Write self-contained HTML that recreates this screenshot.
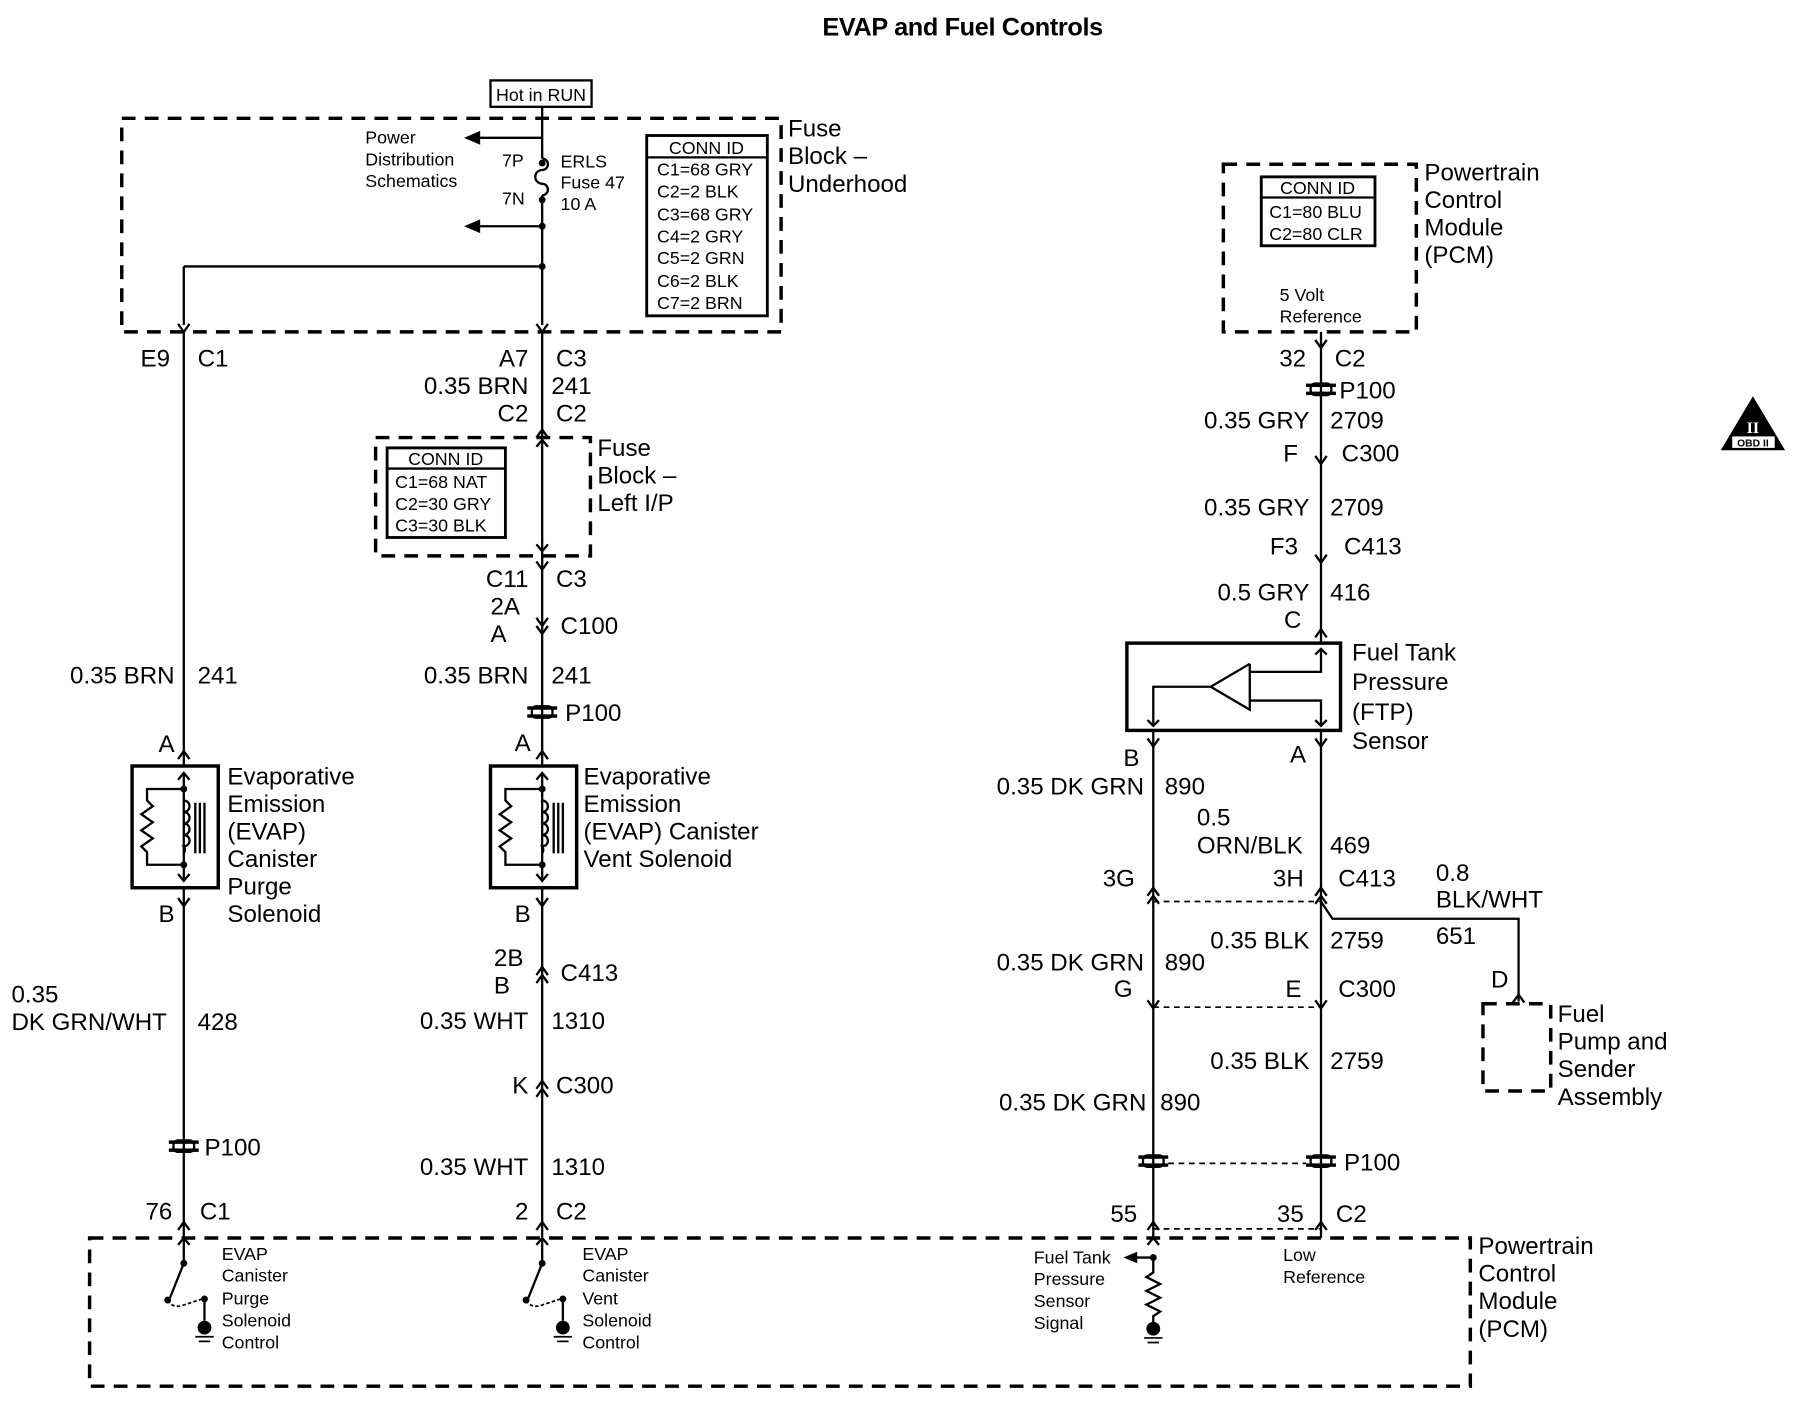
<!DOCTYPE html>
<html><head><meta charset="utf-8"><style>
html,body{margin:0;padding:0;background:#fff;}
svg{display:block}
text{font-family:"Liberation Sans",sans-serif;fill:#000;}
.L{font-size:21px;letter-spacing:0px}
.S{font-size:15.5px;letter-spacing:0px}
.r{text-anchor:end}
</style></head><body>
<svg width="1800" height="1408" viewBox="0 0 1567 1226" preserveAspectRatio="none" xmlns="http://www.w3.org/2000/svg">
<defs>
<g id="cv"><polyline points="-5,-7 0,0 5,-7" fill="none" stroke="#000" stroke-width="2"/></g>
<g id="cu"><polyline points="-5,7 0,0 5,7" fill="none" stroke="#000" stroke-width="2"/></g>
<g id="p100"><rect x="-13" y="-5" width="26" height="3" fill="#000"/><rect x="-13" y="2" width="26" height="3" fill="#000"/><rect x="-9" y="-5" width="18" height="10" rx="4" fill="none" stroke="#000" stroke-width="2"/></g>
<g id="sol">
<rect x="-45" y="0" width="75" height="106" fill="none" stroke="#000" stroke-width="3"/>
<line x1="0" y1="6" x2="0" y2="100" stroke="#000" stroke-width="2"/>
<polyline points="-5,12 0,6 5,12" fill="none" stroke="#000" stroke-width="2"/>
<polyline points="-5,94 0,100 5,94" fill="none" stroke="#000" stroke-width="2"/>
<circle cx="0" cy="20" r="3"/><circle cx="0" cy="86" r="3"/>
<polyline points="0,20 -32,20 -32,30 -27,35 -37,42 -27,49 -37,56 -27,63 -37,70 -32,75 -32,86 0,86" fill="none" stroke="#000" stroke-width="2"/>
<path d="M0,30 a5,5 0 0 1 0,10 a5,5 0 0 1 0,10 a5,5 0 0 1 0,10 a5,5 0 0 1 0,10 a5,5 0 0 1 0,6" fill="none" stroke="#000" stroke-width="2"/>
<line x1="10" y1="32" x2="10" y2="76" stroke="#000" stroke-width="2"/>
<line x1="14" y1="32" x2="14" y2="76" stroke="#000" stroke-width="2"/>
<line x1="18" y1="32" x2="18" y2="76" stroke="#000" stroke-width="2"/>
</g>
<g id="sw">
<line x1="0" y1="0" x2="0" y2="22" stroke="#000" stroke-width="2"/>
<polyline points="-5,6 0,0 5,6" fill="none" stroke="#000" stroke-width="2"/>
<circle cx="0" cy="22" r="3"/>
<line x1="0" y1="22" x2="-12" y2="52" stroke="#000" stroke-width="2"/>
<circle cx="-14" cy="54" r="3"/><circle cx="18" cy="53" r="3"/>
<path d="M-14,54 q4,7 12,5 l18,-6" fill="none" stroke="#000" stroke-width="1.5" stroke-dasharray="3,2"/>
<line x1="18" y1="53" x2="18" y2="72" stroke="#000" stroke-width="2"/>
<circle cx="18" cy="78" r="6"/>
<line x1="10" y1="86" x2="26" y2="86" stroke="#000" stroke-width="1.5"/>
<line x1="13" y1="90" x2="23" y2="90" stroke="#000" stroke-width="1.5"/>
</g>
</defs>
<text x="838" y="31" font-size="22" font-weight="bold" text-anchor="middle" letter-spacing="-0.3">EVAP and Fuel Controls</text>

<rect x="427" y="70" width="88" height="23" fill="none" stroke="#000" stroke-width="2"/>
<text x="471" y="88" class="S" text-anchor="middle" letter-spacing="-0.5">Hot in RUN</text>

<rect x="106" y="103" width="574" height="186" fill="none" stroke="#000" stroke-width="3" stroke-dasharray="12,8"/>
<text x="686" y="119" class="L">Fuse</text><text x="686" y="143" class="L">Block –</text><text x="686" y="167" class="L">Underhood</text>
<line x1="472" y1="93" x2="472" y2="138" stroke="#000" stroke-width="2"/>
<path d="M472,138 a5,5 0 0 1 0,10 a6,6 0 0 0 0,12 a5,5 0 0 1 0,10" fill="none" stroke="#000" stroke-width="2"/>
<line x1="472" y1="170" x2="472" y2="283" stroke="#000" stroke-width="2"/>
<circle cx="472" cy="142" r="3"/><circle cx="472" cy="174" r="3"/>
<circle cx="472" cy="197" r="3"/><circle cx="472" cy="232" r="3"/>
<line x1="472" y1="197" x2="412" y2="197" stroke="#000" stroke-width="2"/>
<polygon points="404,197 418,191 418,203"/>
<line x1="472" y1="120" x2="412" y2="120" stroke="#000" stroke-width="2"/>
<polygon points="404,120 418,114 418,126"/>
<text x="318" y="125" class="S">Power</text><text x="318" y="144" class="S">Distribution</text><text x="318" y="163" class="S">Schematics</text>
<text x="437" y="145" class="S">7P</text><text x="437" y="178" class="S">7N</text>
<text x="488" y="146" class="S">ERLS</text><text x="488" y="164" class="S">Fuse 47</text><text x="488" y="183" class="S">10 A</text>
<line x1="160" y1="232" x2="472" y2="232" stroke="#000" stroke-width="2"/>
<line x1="160" y1="232" x2="160" y2="283" stroke="#000" stroke-width="2"/>
<rect x="563" y="118" width="105" height="157" fill="none" stroke="#000" stroke-width="2.5"/>
<line x1="563" y1="137" x2="668" y2="137" stroke="#000" stroke-width="2"/>
<text x="615" y="134" class="S" text-anchor="middle" letter-spacing="-0.5">CONN ID</text>
<g letter-spacing="-0.6">
<text x="572" y="153" class="S" letter-spacing="-0.6">C1=68 GRY</text><text x="572" y="172" class="S" letter-spacing="-0.6">C2=2 BLK</text>
<text x="572" y="192" class="S" letter-spacing="-0.6">C3=68 GRY</text><text x="572" y="211" class="S" letter-spacing="-0.6">C4=2 GRY</text>
<text x="572" y="230" class="S" letter-spacing="-0.6">C5=2 GRN</text><text x="572" y="250" class="S" letter-spacing="-0.6">C6=2 BLK</text>
<text x="572" y="269" class="S" letter-spacing="-0.6">C7=2 BRN</text>
</g>
<use href="#cv" x="160" y="289"/><use href="#cv" x="472" y="289"/>

<line x1="160" y1="289" x2="160" y2="667" stroke="#000" stroke-width="2"/>
<text x="148" y="319" class="L r">E9</text><text x="172" y="319" class="L">C1</text>
<text x="152" y="595" class="L r">0.35 BRN</text><text x="172" y="595" class="L">241</text>
<text x="152" y="655" class="L r">A</text>
<use href="#cu" x="160" y="654"/>
<use href="#sol" x="160" y="667"/>
<text x="198" y="683" class="L">Evaporative</text><text x="198" y="707" class="L">Emission</text><text x="198" y="731" class="L">(EVAP)</text><text x="198" y="755" class="L">Canister</text><text x="198" y="779" class="L">Purge</text><text x="198" y="803" class="L">Solenoid</text>
<text x="152" y="803" class="L r">B</text>
<use href="#cv" x="160" y="789"/>
<line x1="160" y1="773" x2="160" y2="1077" stroke="#000" stroke-width="2"/>
<text x="10" y="873" class="L">0.35</text><text x="10" y="897" class="L">DK GRN/WHT</text><text x="172" y="897" class="L">428</text>
<use href="#p100" x="160" y="998"/><text x="178" y="1006" class="L">P100</text>
<text x="150" y="1062" class="L r">76</text><text x="174" y="1062" class="L">C1</text>
<use href="#cu" x="160" y="1064"/>

<line x1="472" y1="289" x2="472" y2="667" stroke="#000" stroke-width="2"/>
<text x="460" y="319" class="L r">A7</text><text x="484" y="319" class="L">C3</text>
<text x="460" y="343" class="L r">0.35 BRN</text><text x="480" y="343" class="L">241</text>
<text x="460" y="367" class="L r">C2</text><text x="484" y="367" class="L">C2</text>
<use href="#cu" x="472" y="374"/>
<rect x="327" y="381" width="187" height="103" fill="none" stroke="#000" stroke-width="3" stroke-dasharray="12,8"/>
<polyline points="467,389 472,383 477,389" fill="none" stroke="#000" stroke-width="2"/>
<polyline points="467,474 472,480 477,474" fill="none" stroke="#000" stroke-width="2"/>
<rect x="337" y="390" width="103" height="78" fill="none" stroke="#000" stroke-width="2.5"/>
<line x1="337" y1="408" x2="440" y2="408" stroke="#000" stroke-width="2"/>
<text x="388" y="405" class="S" text-anchor="middle" letter-spacing="-0.5">CONN ID</text>
<text x="344" y="425" class="S" letter-spacing="-0.6">C1=68 NAT</text><text x="344" y="444" class="S" letter-spacing="-0.6">C2=30 GRY</text><text x="344" y="463" class="S" letter-spacing="-0.6">C3=30 BLK</text>
<text x="520" y="397" class="L">Fuse</text><text x="520" y="421" class="L">Block –</text><text x="520" y="445" class="L">Left I/P</text>
<use href="#cv" x="472" y="496"/>
<text x="460" y="511" class="L r">C11</text><text x="484" y="511" class="L">C3</text>
<text x="427" y="535" class="L">2A</text><text x="427" y="559" class="L">A</text>
<use href="#cv" x="472" y="545"/><use href="#cv" x="472" y="552"/>
<text x="488" y="552" class="L">C100</text>
<text x="460" y="595" class="L r">0.35 BRN</text><text x="480" y="595" class="L">241</text>
<use href="#p100" x="472" y="620"/><text x="492" y="628" class="L">P100</text>
<text x="462" y="654" class="L r">A</text><use href="#cu" x="472" y="654"/>
<use href="#sol" x="472" y="667"/>
<text x="508" y="683" class="L">Evaporative</text><text x="508" y="707" class="L">Emission</text><text x="508" y="731" class="L">(EVAP) Canister</text><text x="508" y="755" class="L">Vent Solenoid</text>
<text x="462" y="803" class="L r">B</text><use href="#cv" x="472" y="789"/>
<line x1="472" y1="773" x2="472" y2="1077" stroke="#000" stroke-width="2"/>
<text x="430" y="841" class="L">2B</text><text x="430" y="865" class="L">B</text>
<use href="#cu" x="472" y="842"/><use href="#cu" x="472" y="849"/>
<text x="488" y="854" class="L">C413</text>
<text x="460" y="896" class="L r">0.35 WHT</text><text x="480" y="896" class="L">1310</text>
<text x="460" y="952" class="L r">K</text><use href="#cu" x="472" y="941"/><use href="#cu" x="472" y="948"/>
<text x="484" y="952" class="L">C300</text>
<text x="460" y="1023" class="L r">0.35 WHT</text><text x="480" y="1023" class="L">1310</text>
<text x="460" y="1062" class="L r">2</text><text x="484" y="1062" class="L">C2</text>
<use href="#cu" x="472" y="1064"/>

<rect x="78" y="1078" width="1202" height="129" fill="none" stroke="#000" stroke-width="3" stroke-dasharray="12,8"/>
<text x="1287" y="1092" class="L">Powertrain</text><text x="1287" y="1116" class="L">Control</text><text x="1287" y="1140" class="L">Module</text><text x="1287" y="1164" class="L">(PCM)</text>
<use href="#sw" x="160" y="1078"/><use href="#sw" x="472" y="1078"/>
<text x="193" y="1097" class="S">EVAP</text><text x="193" y="1116" class="S">Canister</text><text x="193" y="1136" class="S">Purge</text><text x="193" y="1155" class="S">Solenoid</text><text x="193" y="1174" class="S">Control</text>
<text x="507" y="1097" class="S">EVAP</text><text x="507" y="1116" class="S">Canister</text><text x="507" y="1136" class="S">Vent</text><text x="507" y="1155" class="S">Solenoid</text><text x="507" y="1174" class="S">Control</text>

<rect x="1065" y="143" width="168" height="146" fill="none" stroke="#000" stroke-width="3" stroke-dasharray="12,8"/>
<rect x="1098" y="154" width="99" height="60" fill="none" stroke="#000" stroke-width="2.5"/>
<line x1="1098" y1="172" x2="1197" y2="172" stroke="#000" stroke-width="2"/>
<text x="1147" y="169" class="S" text-anchor="middle" letter-spacing="-0.5">CONN ID</text>
<text x="1105" y="190" class="S" letter-spacing="-0.6">C1=80 BLU</text><text x="1105" y="209" class="S" letter-spacing="-0.6">C2=80 CLR</text>
<text x="1114" y="262" class="S">5 Volt</text><text x="1114" y="281" class="S">Reference</text>
<text x="1240" y="157" class="L">Powertrain</text><text x="1240" y="181" class="L">Control</text><text x="1240" y="205" class="L">Module</text><text x="1240" y="229" class="L">(PCM)</text>
<use href="#cv" x="1150" y="303"/>
<line x1="1150" y1="289" x2="1150" y2="560" stroke="#000" stroke-width="2"/>
<text x="1137" y="319" class="L r">32</text><text x="1162" y="319" class="L">C2</text>
<use href="#p100" x="1150" y="339"/><text x="1166" y="347" class="L">P100</text>
<text x="1140" y="373" class="L r">0.35 GRY</text><text x="1158" y="373" class="L">2709</text>
<text x="1130" y="402" class="L r">F</text><use href="#cv" x="1150" y="404"/><text x="1168" y="402" class="L">C300</text>
<text x="1140" y="449" class="L r">0.35 GRY</text><text x="1158" y="449" class="L">2709</text>
<text x="1130" y="483" class="L r">F3</text><use href="#cv" x="1150" y="490"/><text x="1170" y="483" class="L">C413</text>
<text x="1140" y="523" class="L r">0.5 GRY</text><text x="1158" y="523" class="L">416</text>
<text x="1133" y="547" class="L r">C</text><use href="#cu" x="1150" y="548"/>
<rect x="981" y="560" width="186" height="76" fill="none" stroke="#000" stroke-width="3"/>
<polyline points="1088,578 1054,598 1088,618 1088,578" fill="none" stroke="#000" stroke-width="2"/>
<polyline points="1088,585 1150,585 1150,565" fill="none" stroke="#000" stroke-width="2"/>
<polyline points="1145,570 1150,565 1155,570" fill="none" stroke="#000" stroke-width="2"/>
<polyline points="1088,610 1150,610 1150,632" fill="none" stroke="#000" stroke-width="2"/>
<polyline points="1145,627 1150,632 1155,627" fill="none" stroke="#000" stroke-width="2"/>
<polyline points="1054,598 1004,598 1004,632" fill="none" stroke="#000" stroke-width="2"/>
<polyline points="999,627 1004,632 1009,627" fill="none" stroke="#000" stroke-width="2"/>
<text x="1177" y="575" class="L">Fuel Tank</text><text x="1177" y="601" class="L">Pressure</text><text x="1177" y="627" class="L">(FTP)</text><text x="1177" y="652" class="L">Sensor</text>
<use href="#cv" x="1004" y="650"/><use href="#cv" x="1150" y="650"/>
<line x1="1004" y1="636" x2="1004" y2="1078" stroke="#000" stroke-width="2"/>
<line x1="1150" y1="636" x2="1150" y2="1078" stroke="#000" stroke-width="2"/>
<text x="992" y="667" class="L r">B</text><text x="1137" y="664" class="L r">A</text>
<text x="996" y="692" class="L r">0.35 DK GRN</text><text x="1014" y="692" class="L">890</text>
<text x="1042" y="719" class="L">0.5</text><text x="1042" y="743" class="L">ORN/BLK</text><text x="1158" y="743" class="L">469</text>
<text x="988" y="772" class="L r">3G</text><text x="1135" y="772" class="L r">3H</text><text x="1165" y="772" class="L">C413</text>
<use href="#cu" x="1004" y="773"/><use href="#cu" x="1004" y="780"/><use href="#cu" x="1150" y="773"/><use href="#cu" x="1150" y="780"/>
<line x1="1004" y1="785" x2="1150" y2="785" stroke="#000" stroke-width="1.5" stroke-dasharray="5,4"/>
<polyline points="1150,785 1160,800 1322,800 1322,872" fill="none" stroke="#000" stroke-width="2"/>
<use href="#cu" x="1322" y="866"/>
<text x="1250" y="767" class="L">0.8</text><text x="1250" y="790" class="L">BLK/WHT</text><text x="1250" y="822" class="L">651</text>
<text x="1298" y="860" class="L">D</text>
<rect x="1291" y="874" width="59" height="76" fill="none" stroke="#000" stroke-width="3" stroke-dasharray="12,8"/>
<text x="1356" y="890" class="L">Fuel</text><text x="1356" y="914" class="L">Pump and</text><text x="1356" y="938" class="L">Sender</text><text x="1356" y="962" class="L">Assembly</text>
<text x="1140" y="826" class="L r">0.35 BLK</text><text x="1158" y="826" class="L">2759</text>
<text x="996" y="845" class="L r">0.35 DK GRN</text><text x="1014" y="845" class="L">890</text>
<text x="986" y="868" class="L r">G</text><text x="1133" y="868" class="L r">E</text><text x="1165" y="868" class="L">C300</text>
<use href="#cv" x="1004" y="878"/><use href="#cv" x="1150" y="878"/>
<line x1="1004" y1="877" x2="1150" y2="877" stroke="#000" stroke-width="1.5" stroke-dasharray="5,4"/>
<text x="1140" y="931" class="L r">0.35 BLK</text><text x="1158" y="931" class="L">2759</text>
<text x="998" y="967" class="L r">0.35 DK GRN</text><text x="1010" y="967" class="L">890</text>
<use href="#p100" x="1004" y="1011"/><use href="#p100" x="1150" y="1011"/>
<line x1="1017" y1="1013" x2="1137" y2="1013" stroke="#000" stroke-width="1.5" stroke-dasharray="5,4"/>
<text x="1170" y="1019" class="L">P100</text>
<text x="990" y="1064" class="L r">55</text><text x="1135" y="1064" class="L r">35</text><text x="1163" y="1064" class="L">C2</text>
<use href="#cu" x="1004" y="1064"/><use href="#cu" x="1150" y="1064"/>
<line x1="1004" y1="1070" x2="1150" y2="1070" stroke="#000" stroke-width="1.5" stroke-dasharray="5,4"/>
<polyline points="999,1084 1004,1078 1009,1084" fill="none" stroke="#000" stroke-width="2"/>
<circle cx="1004" cy="1095" r="3"/>
<line x1="1004" y1="1095" x2="988" y2="1095" stroke="#000" stroke-width="2"/>
<polygon points="978,1095 990,1090 990,1100"/>
<polyline points="1004,1095 1004,1108 998,1112 1010,1118 998,1124 1010,1130 998,1136 1010,1142 1004,1146 1004,1152" fill="none" stroke="#000" stroke-width="2"/>
<circle cx="1004" cy="1157" r="6"/>
<line x1="996" y1="1165" x2="1012" y2="1165" stroke="#000" stroke-width="1.5"/>
<line x1="999" y1="1169" x2="1009" y2="1169" stroke="#000" stroke-width="1.5"/>
<text x="900" y="1100" class="S">Fuel Tank</text><text x="900" y="1119" class="S">Pressure</text><text x="900" y="1138" class="S">Sensor</text><text x="900" y="1157" class="S">Signal</text>
<text x="1117" y="1098" class="S">Low</text><text x="1117" y="1117" class="S">Reference</text>
<polygon points="1526,345 1498,392 1554,392"/>
<text x="1526" y="377" font-size="14" text-anchor="middle" style="fill:#fff;font-family:'Liberation Serif',serif;font-weight:bold">II</text>
<rect x="1508" y="380" width="37" height="10" fill="#fff"/>
<text x="1526" y="389" font-size="9" text-anchor="middle" font-weight="bold">OBD II</text>
</svg>
</body></html>
